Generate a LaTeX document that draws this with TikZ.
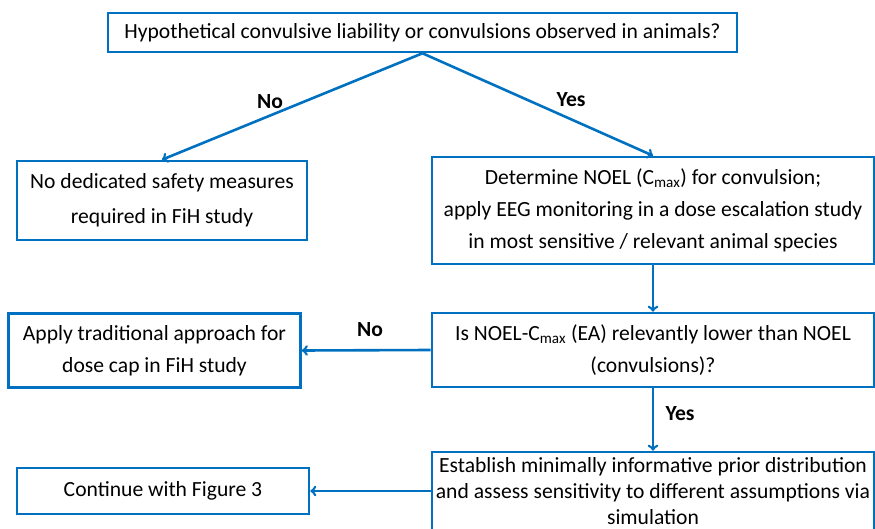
\documentclass[tikz,border=0pt]{standalone}
\usepackage{fontspec}
\setmainfont{Carlito}
\usetikzlibrary{positioning}
\definecolor{boxblue}{RGB}{0,112,192}
\tikzset{
  flowbox/.style={draw=boxblue, line width=2.6pt, align=center, inner sep=0pt,
    font=\fontsize{21.6}{32}\selectfont},
  flowline/.style={->, draw=boxblue, line width=2.6pt},
  answer/.style={font=\fontsize{21.6}{24}\selectfont\bfseries}
}
\begin{document}
\begin{tikzpicture}
    \def\x{1pt}
    \def\y{-1pt}
    \useasboundingbox (0,0) rectangle (875*\x, 529*\y);
    \node [flowbox, minimum width=629pt, minimum height=39pt] (Q0) at (422.5*\x, 32.5*\y)
      {Hypothetical convulsive liability or convulsions observed in animals?};
    \node [flowbox, minimum width=290pt, minimum height=79pt,
      font=\fontsize{21.6}{35}\selectfont] (N0) at (162*\x, 200.5*\y)
      {No dedicated safety measures\\required in FiH study};
    \node [flowbox, minimum width=442pt, minimum height=107pt] (D0) at (653*\x, 210.5*\y)
      {Determine NOEL (C\textsubscript{max}) for convulsion;\\
       apply EEG monitoring in a dose escalation study\\
       in most sensitive / relevant animal species};
    \node [flowbox, minimum width=442pt, minimum height=74pt] (Q1) at (653*\x, 350*\y)
      {Is NOEL-C\textsubscript{max} (EA) relevantly lower than NOEL\\(convulsions)?};
    \node [flowbox, minimum width=292pt, minimum height=74pt] (N1) at (154.5*\x, 350.5*\y)
      {Apply traditional approach for\\dose cap in FiH study};
    \node [flowbox, minimum width=442pt, minimum height=78pt,
      font=\fontsize{21.6}{26}\selectfont] (E0) at (653*\x, 491*\y)
      {Establish minimally informative prior distribution\\
       and assess sensitivity to different assumptions via\\
       simulation};
    \node [flowbox, minimum width=292pt, minimum height=46pt] (C0) at (163*\x, 491*\y)
      {Continue with Figure 3};
    % decisions
    \draw [flowline] (Q0.south) -- (N0.north);
    \draw [flowline] (Q0.south) -- (D0.north);
    \node [answer] (L0) at (270*\x, 102*\y) {No};
    \node [answer] (L1) at (571*\x, 100*\y) {Yes};
    \draw [flowline] (D0.south) -- (Q1.north);
    \draw [flowline] (Q1.west) -- (N1.east);
    \node [answer] (L2) at (370*\x, 330*\y) {No};
    \draw [flowline] (Q1.south) -- (E0.north);
    \node [answer] (L3) at (680*\x, 414*\y) {Yes};
    \draw [flowline] (E0.west) -- (C0.east);
  \end{tikzpicture}
\end{document}
